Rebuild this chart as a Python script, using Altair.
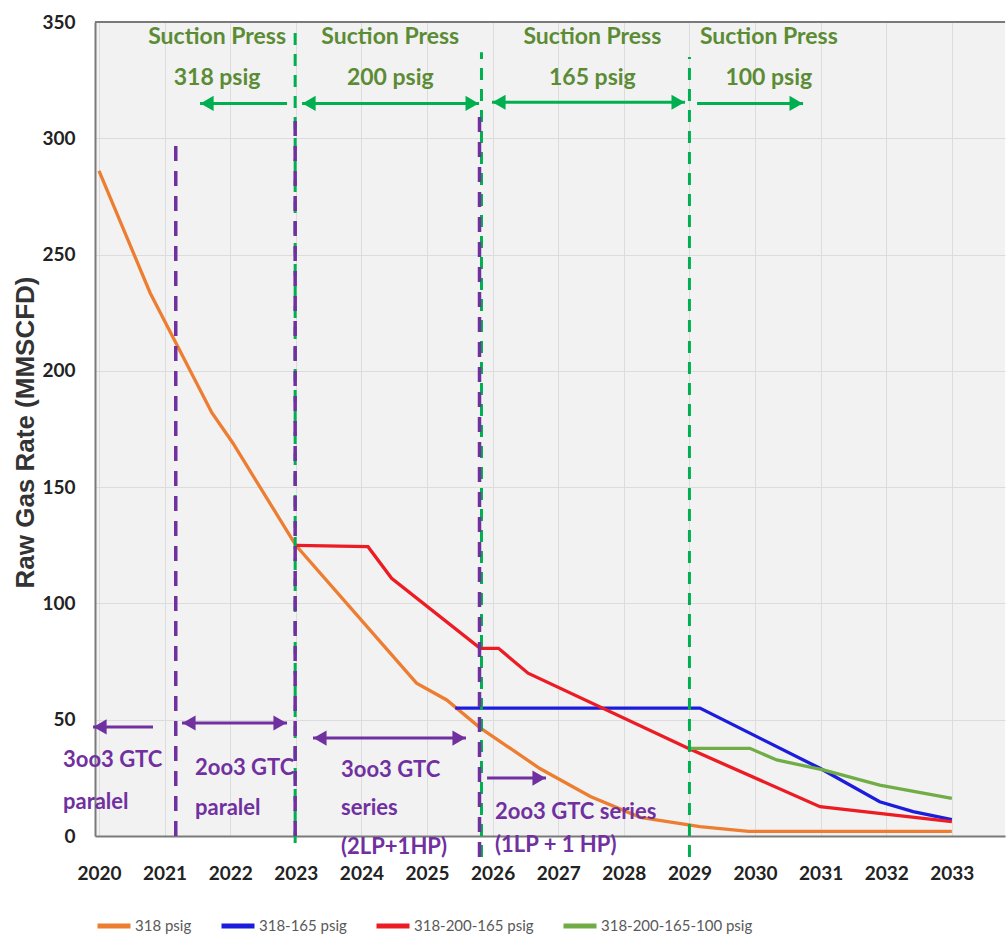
import altair as alt
import pandas as pd

# ---------------- data ----------------
SERIES = ["318 psig", "318-165 psig", "318-200-165 psig", "318-200-165-100 psig"]
COLORS = ["#ed7d31", "#1c1cdc", "#ec1c24", "#70ad47"]

orange_year = [2020.0, 2020.78, 2021.72, 2022.04, 2023.0, 2024.84, 2025.3, 2025.81,
               2026.72, 2027.49, 2028.25, 2029.16, 2029.9, 2033.0]
orange_rate = [286, 233.5, 182, 169, 125, 65.7, 58.5, 46.5,
               29, 17, 8, 4, 2, 2]

blue_year = [2025.43, 2029.16, 2030.99, 2031.9, 2032.41, 2033.0]
blue_rate = [55, 55, 29.1, 14.7, 10.5, 7]

red_year = [2023.0, 2024.1, 2024.46, 2025.81, 2026.09, 2026.54, 2028.98, 2030.99, 2033.0]
red_rate = [125, 124.4, 110.8, 80.7, 80.7, 70, 37.7, 12.6, 6.2]

green_year = [2029.0, 2029.92, 2030.33, 2031.04, 2031.9, 2033.0]
green_rate = [37.7, 37.7, 32.7, 28.4, 21.9, 16.2]

x_ticks = list(range(2020, 2034))
y_ticks = [0, 50, 100, 150, 200, 250, 300, 350]

# vertical dashed markers
green_vline_year = [2022.99, 2025.83, 2029.0]
green_vline_top = [349, 337, 335]
green_vline_bottom = [-3, -9, -9]
purple_vline_year = [2021.17, 2022.99, 2025.80]
purple_vline_top = [301, 310, 311]
purple_vline_bottom = [0, 0, -9]

# suction-pressure annotations (green)
suction_label_year = [2021.80, 2024.44, 2027.52, 2030.21]
suction_line1 = ["Suction Press"] * 4
suction_line2 = ["318 psig", "200 psig", "165 psig", "100 psig"]
suction_line1_rate = 343.5
suction_line2_rate = 326

green_arrow_x1 = [2021.54, 2023.095, 2025.99, 2029.116]
green_arrow_x2 = [2022.866, 2025.793, 2028.933, 2030.732]
green_arrow_y = [315, 315, 315.5, 315]
green_arrow_heads = ["left", "both", "both", "right"]

# compressor configuration annotations (purple)
purple_text = ["3oo3 GTC", "paralel", "2oo3 GTC", "paralel", "3oo3 GTC", "series",
               "(2LP+1HP)", "2oo3 GTC series", "(1LP + 1 HP)"]
purple_text_year = [2019.451, 2019.451, 2021.463, 2021.463, 2023.689, 2023.689,
                    2023.689, 2026.037, 2026.037]
purple_text_rate = [32.7, 14.6, 29.2, 12.0, 28.4, 12.0, -4.7, 10.3, -3.9]

purple_arrow_x1 = [2019.909, 2021.265, 2023.262, 2025.915]
purple_arrow_x2 = [2020.823, 2022.866, 2025.594, 2026.814]
purple_arrow_y = [46.9, 48.6, 42.1, 24.9]
purple_arrow_heads = ["left", "both", "both", "right"]

# ---------------- styling ----------------
GREEN_LINE = "#00b050"
GREEN_TEXT = "#5b8c35"
PURPLE = "#7030a0"
FONT = "Lato, Liberation Sans, sans-serif"
AXISCOL = "#7a7a7a"

rows = []
for name, yrs, vals in zip(SERIES, [orange_year, blue_year, red_year, green_year],
                           [orange_rate, blue_rate, red_rate, green_rate]):
    for i, (x, v) in enumerate(zip(yrs, vals)):
        rows.append({"series": name, "year": x, "rate": v, "ord": i})
lines_df = pd.DataFrame(rows)

xscale = alt.Scale(domain=[2019.939, 2033.81], nice=False, zero=False)
yscale = alt.Scale(domain=[0, 350], nice=False, zero=False)

X_AXIS = alt.Axis(values=x_ticks, format="d", title=None, labelFont=FONT,
                  labelFontSize=19, labelFontWeight="bold", labelColor="#222222",
                  labelPadding=28, ticks=False, domainColor=AXISCOL, domainWidth=2,
                  gridColor="#dcdcdc", labelFlush=False)
Y_AXIS = alt.Axis(values=y_ticks, title="Raw Gas Rate (MMSCFD)", labelFont=FONT,
                  labelFontSize=19, labelFontWeight="bold", labelColor="#222222",
                  labelPadding=20, ticks=False, domainColor=AXISCOL, domainWidth=2,
                  gridColor="#dcdcdc", titleFont="Liberation Sans", titleFontSize=26,
                  titleFontWeight="bold", titleColor="#333333", titleX=-62,
                  titleY=410, titleBaseline="alphabetic", labelFlush=False)


def X(field):
    return alt.X(field, scale=xscale, axis=X_AXIS)


def Y(field):
    return alt.Y(field, scale=yscale, axis=Y_AXIS)


lines = alt.Chart(lines_df).mark_line(strokeWidth=3.3).encode(
    x=X("year:Q"),
    y=Y("rate:Q"),
    color=alt.Color("series:N", scale=alt.Scale(domain=SERIES, range=COLORS),
                    legend=alt.Legend(title=None, orient="none", legendX=0, legendY=885,
                                      direction="horizontal", symbolType="stroke",
                                      symbolSize=1089, symbolStrokeWidth=5,
                                      labelFont=FONT, labelFontSize=15, labelLimit=0,
                                      labelColor="#595959", columnPadding=19,
                                      labelOffset=2, padding=0)),
    order="ord:Q",
)

top_border = alt.Chart(pd.DataFrame({"r": [350]})).mark_rule(
    color=AXISCOL, strokeWidth=2).encode(y=Y("r:Q"))

gv = pd.DataFrame({"year": green_vline_year, "top": green_vline_top,
                   "bottom": green_vline_bottom})
pv = pd.DataFrame({"year": purple_vline_year, "top": purple_vline_top,
                   "bottom": purple_vline_bottom})

green_vlines = alt.Chart(gv).mark_rule(color=GREEN_LINE, strokeWidth=3,
                                       strokeDash=[12, 9]).encode(
    x=X("year:Q"), y=Y("bottom:Q"), y2="top:Q")
purple_vlines = alt.Chart(pv).mark_rule(color=PURPLE, strokeWidth=3.5,
                                        strokeDash=[15, 10]).encode(
    x=X("year:Q"), y=Y("bottom:Q"), y2="top:Q")


def arrow_layers(x1, x2, yv, heads, color, width, head_size):
    df = pd.DataFrame({"x1": x1, "x2": x2, "y": yv, "heads": heads})
    shaft = alt.Chart(df).mark_rule(color=color, strokeWidth=width).encode(
        x=X("x1:Q"), x2="x2:Q", y=Y("y:Q"))
    left = alt.Chart(df[df.heads.isin(["left", "both"])]).mark_point(
        shape="triangle-left", filled=True, color=color, opacity=1, size=head_size,
        xOffset=7).encode(x=X("x1:Q"), y=Y("y:Q"))
    right = alt.Chart(df[df.heads.isin(["right", "both"])]).mark_point(
        shape="triangle-right", filled=True, color=color, opacity=1, size=head_size,
        xOffset=-7).encode(x=X("x2:Q"), y=Y("y:Q"))
    return [shaft, left, right]


green_arrows = arrow_layers(green_arrow_x1, green_arrow_x2, green_arrow_y,
                            green_arrow_heads, GREEN_LINE, 3, 230)
purple_arrows = arrow_layers(purple_arrow_x1, purple_arrow_x2, purple_arrow_y,
                             purple_arrow_heads, PURPLE, 3, 230)

suction_df = pd.DataFrame({
    "year": suction_label_year * 2,
    "rate": [suction_line1_rate] * 4 + [suction_line2_rate] * 4,
    "txt": suction_line1 + suction_line2,
})
suction_text = alt.Chart(suction_df).mark_text(
    font=FONT, fontSize=23, fontWeight="bold", color=GREEN_TEXT,
    align="center", baseline="middle").encode(
    x=X("year:Q"), y=Y("rate:Q"), text="txt:N")

purple_df = pd.DataFrame({"year": purple_text_year, "rate": purple_text_rate,
                          "txt": purple_text})
purple_labels = alt.Chart(purple_df).mark_text(
    font=FONT, fontSize=22, fontWeight="bold", color=PURPLE,
    align="left", baseline="middle").encode(
    x=X("year:Q"), y=Y("rate:Q"), text="txt:N")

chart = alt.layer(
    lines, top_border, green_vlines, purple_vlines,
    *green_arrows, *purple_arrows, suction_text, purple_labels
).properties(
    width=910, height=814,
    autosize=alt.AutoSizeParams(type="none"),
    padding={"left": 95, "top": 22, "right": 2, "bottom": 100},
    background="white",
).configure_view(fill="#f2f2f2", stroke=None)

chart.save("out.html", embed_options={"renderer": "svg", "actions": False})
